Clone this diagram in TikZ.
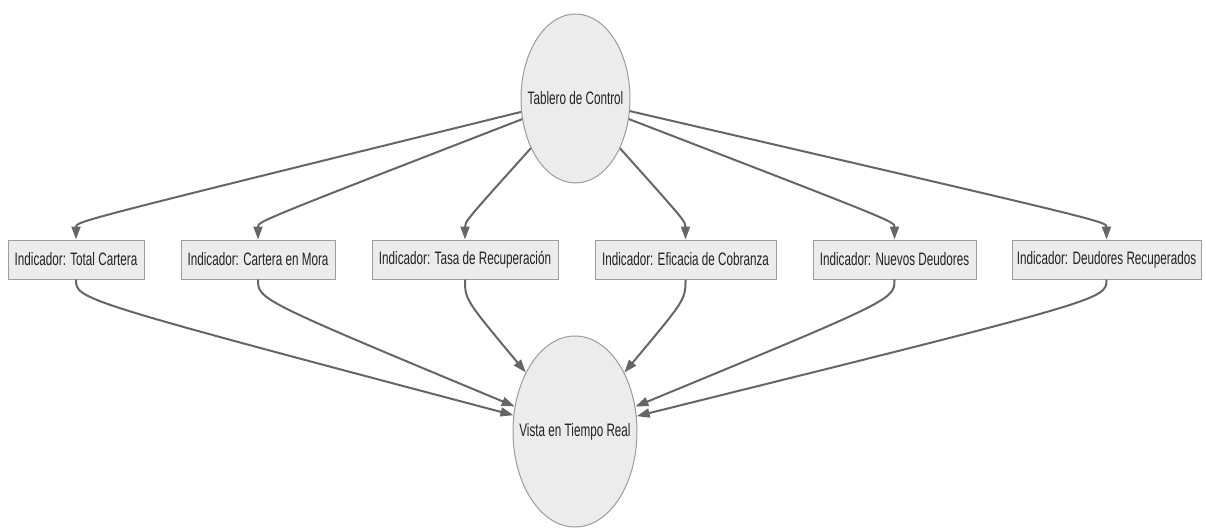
\documentclass[tikz,border=0pt]{standalone}
\usepackage{fontspec}
\setmainfont{Liberation Sans}[FakeStretch=0.65]
\usetikzlibrary{shapes.geometric,arrows.meta,calc}
\definecolor{nodefill}{HTML}{ECECEC}
\definecolor{nodeline}{HTML}{9C9C9C}
\definecolor{edgecol}{HTML}{666666}
\definecolor{txt}{HTML}{222222}
\begin{document}
\begin{tikzpicture}[x=1pt,y=-1pt,
  every node/.style={font=\fontsize{18}{20}\selectfont, text=txt},
  oval/.style={ellipse, draw=nodeline, fill=nodefill, line width=1pt, inner sep=0pt},
  kpibox/.style={rectangle, draw=nodeline, fill=nodefill, line width=1pt, inner sep=0pt, minimum height=39pt},
  edge/.style={draw=edgecol, line width=2pt, -{Triangle[length=13pt,width=9pt]}}
]
\useasboundingbox (0,0) rectangle (1206,527);

% central nodes (text set as a centred label so the outline keeps its size)
\node[oval, minimum width=109pt, minimum height=169pt,
      label={[text=txt]center:Tablero de Control}] (t) at (575.5,98.5) {};
\node[oval, minimum width=124pt, minimum height=191pt,
      label={[text=txt]center:Vista en Tiempo Real}] (v) at (575,431.5) {};

% indicator boxes
\node[kpibox, minimum width=136pt] (b1) at (76,259.5)   {Indicador: Total Cartera};
\node[kpibox, minimum width=154pt] (b2) at (258,259.5)  {Indicador: Cartera en Mora};
\node[kpibox, minimum width=186pt] (b3) at (465,259.5)  {Indicador: Tasa de Recuperación};
\node[kpibox, minimum width=181pt] (b4) at (685.5,259.5){Indicador: Eficacia de Cobranza};
\node[kpibox, minimum width=163pt] (b5) at (894.5,259.5){Indicador: Nuevos Deudores};
\node[kpibox, minimum width=189pt] (b6) at (1106.5,259.5){Indicador: Deudores Recuperados};

% dashboard -> indicators, indicators -> real-time view
\foreach \b in {b1,b2,b3,b4,b5,b6}{
  \draw[edge] (t) .. controls ($(\b.north)+(0,-18)$) .. (\b.north);
  \draw[edge] (\b.south) .. controls ($(\b.south)+(0,20)$) .. (v);
}
\end{tikzpicture}
\end{document}
